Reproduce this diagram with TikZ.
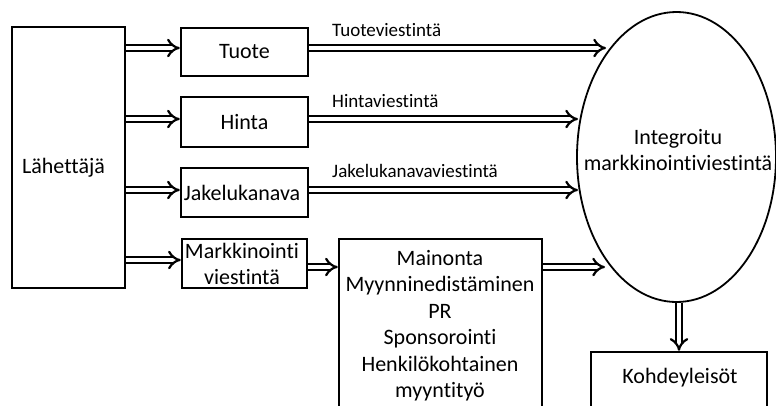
\documentclass[tikz,border=0pt]{standalone}
\usepackage{fontspec}
\setmainfont{Carlito}[Ligatures={NoCommon,NoContextual}]
\usetikzlibrary{arrows.meta,shapes.geometric}
\newcommand\mlines[1]{\begin{tabular}[t]{@{}c@{}}#1\end{tabular}}
\begin{document}
\begin{tikzpicture}[x=1pt,y=-1pt,
  box/.style={draw,line width=2.4pt,rectangle,inner sep=0pt},
  txt/.style={inner sep=0pt,anchor=base,font=\fontsize{22}{26.5}\selectfont},
  lbl/.style={inner sep=0pt,anchor=base west,font=\fontsize{19}{22}\selectfont},
  dbl/.style={draw,line width=2.2pt,double,double distance=4pt,-{Implies[scale=1.3]}}]
\clip (0,0) rectangle (776,405);
\fill[white] (0,0) rectangle (776,405);
% boxes
\node[box,minimum width=113pt,minimum height=261pt] (lah) at (68.5,157.5) {};
\node[box,minimum width=127pt,minimum height=48pt] (tuote) at (244.5,52) {};
\node[box,minimum width=127pt,minimum height=50pt] (hinta) at (244.5,122) {};
\node[box,minimum width=127pt,minimum height=49pt] (jake) at (244.5,192.5) {};
\node[box,minimum width=125pt,minimum height=49pt] (mark) at (244.5,263.5) {};
\node[box,minimum width=203pt,minimum height=181pt] (big) at (440.5,329.5) {};
\node[box,minimum width=176pt,minimum height=68pt] (kohde) at (679,386) {};
\node[draw,line width=1.8pt,ellipse,inner sep=0pt,minimum width=199pt,minimum height=290pt] (ell) at (676.5,157) {};
% texts
\node[txt] (tlah) at (63.5,173) {Lähettäjä};
\node[txt] (ttuote) at (244.5,58) {Tuote};
\node[txt] (thinta) at (244.5,129) {Hinta};
\node[txt] (tjake) at (242,200) {Jakelukanava};
\node[txt] (tmark) at (242,258) {\mlines{Markkinointi\\viestintä}};
\node[txt] (tbig) at (440,265) {\mlines{Mainonta\\Myynninedistäminen\\PR\\Sponsorointi\\Henkilökohtainen\\myyntityö}};
\node[txt] (tell) at (678,144) {\mlines{Integroitu\\markkinointiviestintä}};
\node[txt] (tkohde) at (680,383) {Kohdeyleisöt};
% labels
\node[lbl] (l1) at (332,36) {Tuoteviestintä};
\node[lbl] (l2) at (332,107) {Hintaviestintä};
\node[lbl] (l3) at (332,177) {Jakelukanavaviestintä};
% arrow tips on ellipse
\coordinate (e1) at (606,48);
\coordinate (e2) at (578,119);
\coordinate (e3) at (578,190);
\coordinate (e4) at (605,267);
% arrows
\draw[dbl] (lah.east |- 0,48) -- (tuote.west |- 0,48);
\draw[dbl] (lah.east |- 0,119) -- (hinta.west |- 0,119);
\draw[dbl] (lah.east |- 0,190) -- (jake.west |- 0,190);
\draw[dbl] (lah.east |- 0,260) -- (mark.west |- 0,260);
\draw[dbl] (tuote.east |- e1) -- (e1);
\draw[dbl] (hinta.east |- e2) -- (e2);
\draw[dbl] (jake.east |- e3) -- (e3);
\draw[dbl] (mark.east |- 0,267) -- (big.west |- 0,267);
\draw[dbl] (big.east |- e4) -- (e4);
\draw[dbl] (ell.south -| kohde.north) -- (kohde.north);
\end{tikzpicture}
\end{document}
